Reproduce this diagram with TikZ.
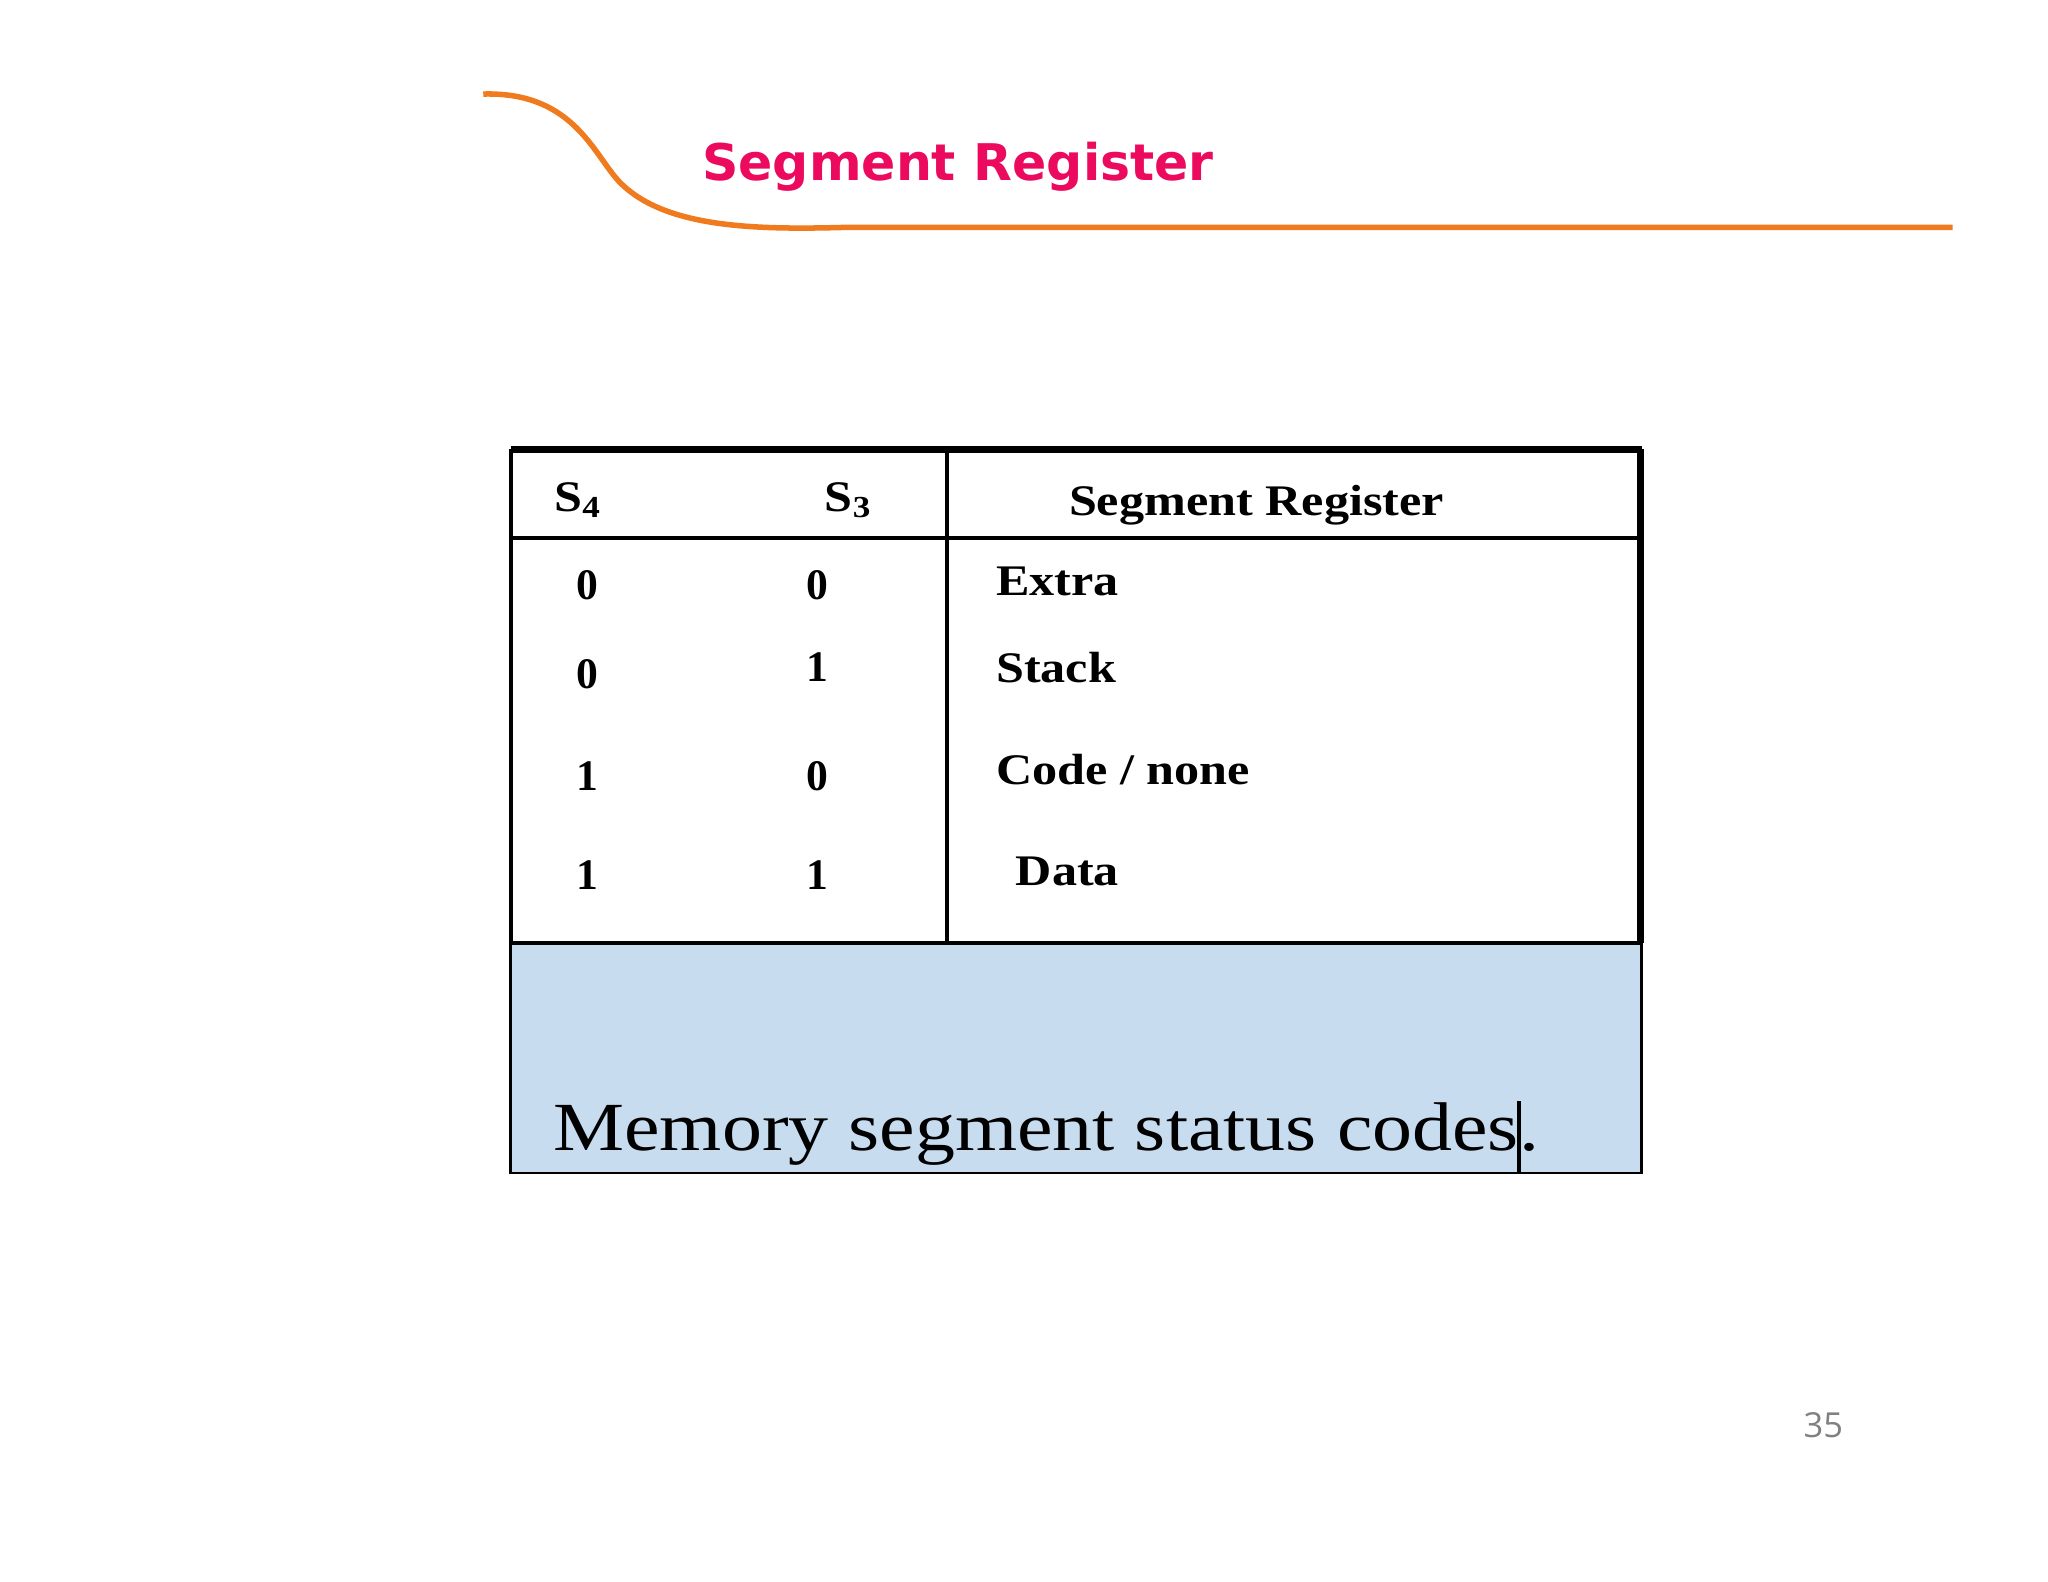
\documentclass[tikz,border=0pt]{standalone}
\usepackage{fontspec}
\usepackage{graphicx}
\setmainfont{Liberation Serif}
\newfontfamily\titlefont{DejaVu Sans}
\newfontfamily\numfont{Open Sans}
\definecolor{orng}{HTML}{F07A1E}
\definecolor{mag}{HTML}{EC0A5E}
\definecolor{capblue}{HTML}{C8DCF0}
\newcommand{\wide}[1]{\scalebox{1.15}[1]{#1}}
\tikzset{cell/.style={font=\bfseries\fontsize{9.5}{11}\selectfont,inner sep=0pt},
 lcell/.style={cell,anchor=west}}
\begin{document}
\begin{tikzpicture}[x=0.01cm,y=-0.01cm]
\useasboundingbox (0,0) rectangle (1568,1211);
\draw[orng,line width=1.2pt] (370,72) .. controls (440,70) and (455,120) .. (475,140) .. controls (510,175) and (580,176) .. (650,174) -- (1495,174);
\node[font=\titlefont\bfseries\fontsize{11}{13}\selectfont,text=mag,anchor=west,inner sep=0pt] (title) at (537,128) {Segment Register};
\fill[capblue] (391,722) rectangle (1257,898);
\draw[line width=0.6pt] (391,722) rectangle (1257,898);
\draw[line width=1.4pt] (391,344) -- (1257,344);
\draw[line width=1.4pt] (1256,344) -- (1256,722);
\draw[line width=0.8pt] (391,344) -- (391,722);
\draw[line width=0.8pt] (391,412) -- (1256,412);
\draw[line width=0.8pt] (725,344) -- (725,722);
\draw[line width=0.8pt] (391,722) -- (1256,722);
\node[cell] (h1) at (443,383) {\wide{S\textsubscript{4}}};
\node[cell] (h2) at (650,383) {\wide{S\textsubscript{3}}};
\node[cell] (h3) at (962,387) {\wide{Segment Register}};
\node[cell] (a1) at (450,448) {0}; \node[cell] (b1) at (626,448) {0}; \node[lcell] (c1) at (762,445) {\wide{Extra}};
\node[cell] (a2) at (450,516) {0}; \node[cell] (b2) at (626,511) {1}; \node[lcell] (c2) at (762,511) {\wide{Stack}};
\node[cell] (a3) at (450,594) {1}; \node[cell] (b3) at (626,594) {0}; \node[lcell] (c3) at (762,589) {\wide{Code / none}};
\node[cell] (a4) at (450,670) {1}; \node[cell] (b4) at (626,670) {1}; \node[lcell] (c4) at (777,667) {\wide{Data}};
\node[anchor=west,inner sep=0pt,font=\fontsize{15}{17}\selectfont] (cap) at (423,868) {\scalebox{1.16}[1]{Memory segment status codes.}};
\draw[line width=0.8pt] (1163,843) -- (1163,897);
\node[font=\numfont\fontsize{7.5}{9}\selectfont,text=gray,inner sep=0pt] (pg) at (1396,1091) {35};
\end{tikzpicture}
\end{document}
